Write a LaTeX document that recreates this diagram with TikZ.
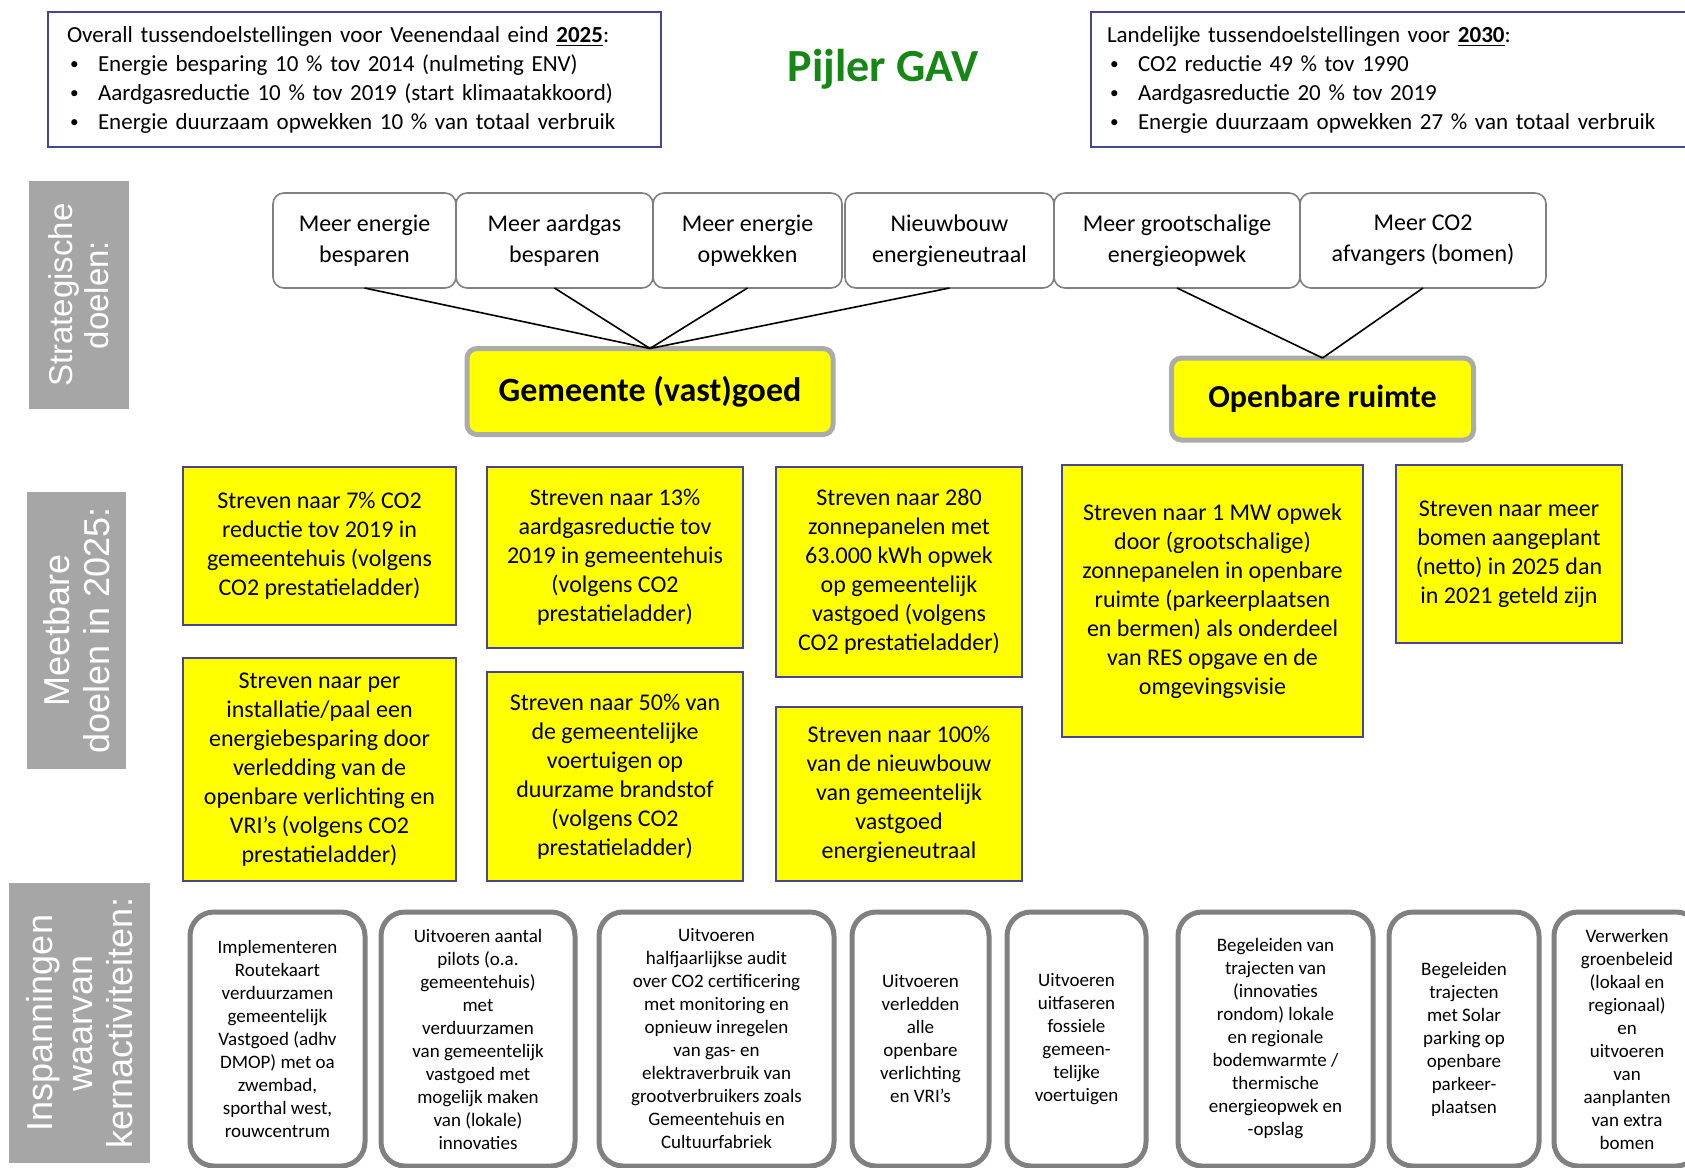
\documentclass[tikz,border=0pt]{standalone}
\usepackage{fontspec}
\setmainfont{Carlito}
\newfontfamily\labelfont{Liberation Sans}
\usetikzlibrary{positioning}
\definecolor{kaderblauw}{RGB}{72,70,145}
\definecolor{geel}{RGB}{255,255,0}
\definecolor{labelgrijs}{RGB}{166,166,166}
\definecolor{randgrijs}{RGB}{128,128,128}
\definecolor{pijlergroen}{RGB}{22,135,22}
\newcommand{\opsom}{\makebox[15.5pt][l]{\hspace{1.5pt}\raisebox{0.8pt}{\scalebox{0.75}{\textbullet}}}}

\begin{document}
\begin{tikzpicture}[x=0.5pt,y=-0.5pt,node distance=0pt,nodes={outer sep=0pt,inner sep=0pt,align=center},
  topbox/.style={draw=kaderblauw,line width=1pt,align=left,font=\fontsize{11.5}{14.5}\selectfont},
  strat/.style={draw=randgrijs,line width=0.8pt,rounded corners=5.5pt,minimum height=47.5pt,font=\fontsize{12}{15.5}\selectfont},
  pijler/.style={fill=geel,draw=black!33,line width=2.5pt,rounded corners=5pt,font=\bfseries\fontsize{17}{20}\selectfont},
  meetdoel/.style={fill=geel,draw=kaderblauw,line width=0.8pt,font=\fontsize{12}{14.5}\selectfont},
  activiteit/.style={draw=randgrijs,line width=2.5pt,rounded corners=12pt,minimum height=127pt,font=\fontsize{9.5}{11.5}\selectfont},
  rijlabel/.style={fill=labelgrijs,rotate=90,text=white,font=\labelfont\fontsize{18}{20}\selectfont},
  verbinding/.style={draw=black,line width=0.8pt}]
  \useasboundingbox (0,0) rectangle (1685,1167);

  \node (overall) at (354.5,79.5) [topbox,text width=287.5pt,inner xsep=9.5pt,minimum height=67.5pt]
    {Overall tussendoelstellingen voor Veenendaal eind \underline{\textbf{2025}}:\\
     \opsom Energie besparing 10 \% tov 2014 (nulmeting ENV)\\
     \opsom Aardgasreductie 10 \% tov 2019 (start klimaatakkoord)\\
     \opsom Energie duurzaam opwekken 10 \% van totaal verbruik};
  \node (pijlergav) at (883,69) [text=pijlergroen,font=\bfseries\fontsize{23}{26}\selectfont] {Pijler GAV};
  \node (landelijk) at (1395.5,79.5) [topbox,text width=288.5pt,inner xsep=8pt,minimum height=67.5pt]
    {Landelijke tussendoelstellingen voor \underline{\textbf{2030}}:\\
     \opsom CO2 reductie 49 \% tov 1990\\
     \opsom Aardgasreductie 20 \% tov 2019\\
     \opsom Energie duurzaam opwekken 27 \% van totaal verbruik};

  \node (strategisch) at (79,295) [rijlabel,minimum width=114pt,minimum height=50pt,font=\labelfont\fontsize{16.5}{18}\selectfont] {Strategische\\doelen:};
  \node (meetbaar) at (76.5,630.5) [rijlabel,minimum width=138.5pt,minimum height=49.5pt] {Meetbare\\doelen in 2025:};
  \node (inspanningen) at (79.5,1023) [rijlabel,minimum width=140pt,minimum height=70.5pt] {Inspanningen\\waarvan\\kernactiviteiten:};

  \node (energiebesparen) at (364.5,240.5) [strat,minimum width=91.5pt] {Meer energie\\besparen};
  \node (aardgasbesparen) [strat,minimum width=98.5pt,right=of energiebesparen] {Meer aardgas\\besparen};
  \node (energieopwekken) [strat,minimum width=94.5pt,right=of aardgasbesparen] {Meer energie\\opwekken};
  \node (nieuwbouw) [strat,minimum width=104.5pt,right=1.5pt of energieopwekken] {Nieuwbouw\\energieneutraal};
  \node (grootschalig) [strat,minimum width=123pt,right=of nieuwbouw] {Meer grootschalige\\energieopwek};
  \node (afvangers) [strat,minimum width=123pt,right=of grootschalig] {Meer CO2\\afvangers (bomen)};

  \node (gemeente) at (650,391.5) [pijler,minimum width=183pt,minimum height=43pt] {Gemeente (vast)goed};
  \node (openbareruimte) at (1322.5,399) [pijler,minimum width=151pt,minimum height=41pt,font=\bfseries\fontsize{16}{19}\selectfont] {Openbare ruimte};

  \foreach \doel in {energiebesparen,aardgasbesparen,energieopwekken,nieuwbouw}
    \draw[verbinding] (\doel.south) -- (gemeente.north);
  \foreach \doel in {grootschalig,afvangers}
    \draw[verbinding] (\doel.south) -- (openbareruimte.north);

  \node (zevenprocent) at (319.5,546) [meetdoel,minimum width=136.5pt,minimum height=79pt]
    {Streven naar 7\% CO2\\reductie tov 2019 in\\gemeentehuis (volgens\\CO2 prestatieladder)};
  \node (verledding) at (319.5,769.5) [meetdoel,minimum width=136.5pt,minimum height=111.5pt]
    {Streven naar per\\installatie/paal een\\energiebesparing door\\verledding van de\\openbare verlichting en\\VRI’s (volgens CO2\\prestatieladder)};
  \node (dertienprocent) at (615,557.5) [meetdoel,minimum width=128pt,minimum height=90.5pt]
    {Streven naar 13\%\\aardgasreductie tov\\2019 in gemeentehuis\\(volgens CO2\\prestatieladder)};
  \node (voertuigen) at (615,776.5) [meetdoel,minimum width=128pt,minimum height=104.5pt]
    {Streven naar 50\% van\\de gemeentelijke\\voertuigen op\\duurzame brandstof\\(volgens CO2\\prestatieladder)};
  \node (zonnepanelen) at (899,572) [meetdoel,minimum width=123pt,minimum height=105pt]
    {Streven naar 280\\zonnepanelen met\\63.000 kWh opwek\\op gemeentelijk\\vastgoed (volgens\\CO2 prestatieladder)};
  \node (energieneutraal) at (899,794) [meetdoel,minimum width=123pt,minimum height=87pt]
    {Streven naar 100\%\\van de nieuwbouw\\van gemeentelijk\\vastgoed\\energieneutraal};
  \node (megawatt) at (1212.5,601) [meetdoel,minimum width=150.5pt,minimum height=136pt]
    {Streven naar 1 MW opwek\\door (grootschalige)\\zonnepanelen in openbare\\ruimte (parkeerplaatsen\\en bermen) als onderdeel\\van RES opgave en de\\omgevingsvisie};
  \node (bomen) at (1509,554) [meetdoel,minimum width=113pt,minimum height=89pt]
    {Streven naar meer\\bomen aangeplant\\(netto) in 2025 dan\\in 2021 geteld zijn};

  \node (routekaart) at (277.5,1039) [activiteit,minimum width=87.5pt]
    {Implementeren\\Routekaart\\verduurzamen\\gemeentelijk\\Vastgoed (adhv\\DMOP) met oa\\zwembad,\\sporthal west,\\rouwcentrum};
  \node (pilots) at (478,1039) [activiteit,minimum width=97pt]
    {Uitvoeren aantal\\pilots (o.a.\\gemeentehuis)\\met\\verduurzamen\\van gemeentelijk\\vastgoed met\\mogelijk maken\\van (lokale)\\innovaties};
  \node (audit) at (716.5,1039) [activiteit,minimum width=117.5pt]
    {Uitvoeren\\halfjaarlijkse audit\\over CO2 certificering\\met monitoring en\\opnieuw inregelen\\van gas- en\\elektraverbruik van\\grootverbruikers zoals\\Gemeentehuis en\\Cultuurfabriek};
  \node (verledden) at (920.5,1039) [activiteit,minimum width=68.5pt]
    {Uitvoeren\\verledden\\alle\\openbare\\verlichting\\en VRI’s};
  \node (uitfaseren) at (1076.5,1039) [activiteit,minimum width=69.5pt]
    {Uitvoeren\\uitfaseren\\fossiele\\gemeen-\\telijke\\voertuigen};
  \node (bodemwarmte) at (1275.5,1039) [activiteit,minimum width=97.5pt]
    {Begeleiden van\\trajecten van\\(innovaties\\rondom) lokale\\en regionale\\bodemwarmte /\\thermische\\energieopwek en\\-opslag};
  \node (solarparking) at (1464,1039) [activiteit,minimum width=75pt]
    {Begeleiden\\trajecten\\met Solar\\parking op\\openbare\\parkeer-\\plaatsen};
  \node (groenbeleid) at (1627,1039) [activiteit,minimum width=73pt]
    {Verwerken\\groenbeleid\\(lokaal en\\regionaal)\\en\\uitvoeren\\van\\aanplanten\\van extra\\bomen};
\end{tikzpicture}
\end{document}
